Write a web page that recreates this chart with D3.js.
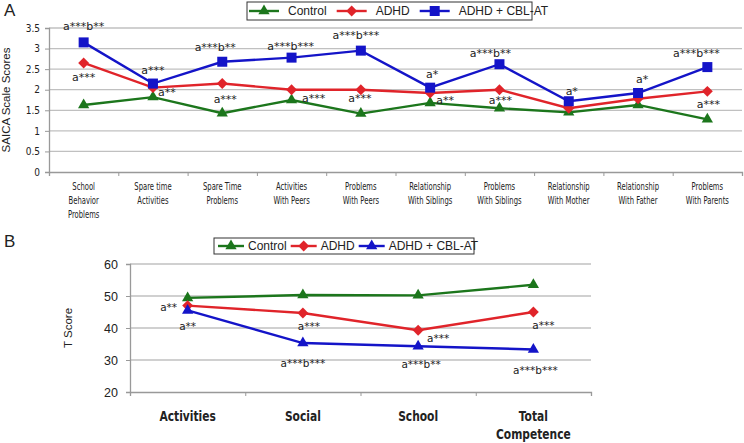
<!DOCTYPE html>
<html><head><meta charset="utf-8">
<script src="https://cdn.jsdelivr.net/npm/d3@7"></script>
<style>
body{margin:0;background:#fff;}
svg{display:block;font-family:"Liberation Sans",Arial,sans-serif;}
</style></head><body>
<svg id="c" width="744" height="443"></svg>
<script>
// ---- Data: panel A ----
const catsA = [["School","Behavior","Problems"],["Spare time","Activities"],["Spare Time","Problems"],["Activities","With Peers"],["Problems","With Peers"],["Relationship","With Siblings"],["Problems","With Siblings"],["Relationship","With Mother"],["Relationship","With Father"],["Problems","With Parents"]];
const controlA = [1.63,1.82,1.43,1.75,1.42,1.68,1.55,1.45,1.63,1.28];
const adhdA    = [2.65,2.05,2.15,2.0,2.0,1.92,2.0,1.55,1.78,1.96];
const cblA     = [3.15,2.15,2.68,2.78,2.95,2.05,2.62,1.72,1.92,2.55];
const ticksA = [0,0.5,1,1.5,2,2.5,3,3.5];
// annotations: [category index, text, series, dx, dy]
const annA = [
 [0,"a***b**","cbl",0,-16],[0,"a***","adhd",0,14],
 [1,"a***","cbl",0,-13],[1,"a**","ctrl",14,-5],
 [2,"a***b**","cbl",-7,-15],[2,"a***","ctrl",3,-14],
 [3,"a***b***","cbl",-1,-11],[3,"a***","ctrl",22,-2],
 [4,"a***b***","cbl",-5,-15],[4,"a***","ctrl",-1,-15],
 [5,"a*","cbl",2,-14],[5,"a**","ctrl",15,-3],
 [6,"a***b**","cbl",-9,-11],[6,"a***","ctrl",1,-8],
 [7,"a*","cbl",3,-10],
 [8,"a*","cbl",4,-14],
 [9,"a***b***","cbl",-11,-14],[9,"a***","ctrl",1,-15]
];
// ---- Data: panel B ----
const catsB = [["Activities"],["Social"],["School"],["Total","Competence"]];
const controlB = [49.4,50.3,50.2,53.5];
const adhdB    = [47.0,44.7,39.3,45.0];
const cblB     = [45.5,35.3,34.3,33.3];
const ticksB = [20,30,40,50,60];
const annB = [
 [0,"a**","adhd",-19,2],[0,"a**","cbl",0,16],
 [1,"a***","adhd",6,13],[1,"a***b***","cbl",0,20],
 [2,"a***","adhd",20,8],[2,"a***b**","cbl",3,18],
 [3,"a***","adhd",10,13],[3,"a***b***","cbl",2,21]
];
const seriesNames = ["Control","ADHD","ADHD + CBL-AT"];

const GREEN="#1c761c", RED="#e0242a", BLUE="#1414c8", GRID="#c0c0c0";
const svg = d3.select("#c");

function marker(g, type, x, y, color, s){
  if(type==="tri"){
    g.append("path").attr("d",d3.symbol(d3.symbolTriangle, s*s*0.55)()).attr("transform",`translate(${x},${y})`).attr("fill",color);
  } else if(type==="dia"){
    g.append("rect").attr("x",-s/2.6).attr("y",-s/2.6).attr("width",s/1.3).attr("height",s/1.3).attr("transform",`translate(${x},${y}) rotate(45)`).attr("fill",color);
  } else {
    g.append("rect").attr("x",x-s/2).attr("y",y-s/2).attr("width",s).attr("height",s).attr("fill",color);
  }
}

function panel(o){
  const g = svg.append("g");
  const x = d3.scaleBand().domain(d3.range(o.cats.length)).range([o.x0,o.x1]);
  const y = d3.scaleLinear().domain(o.dom).range([o.y0,o.y1]);
  g.selectAll(".gl").data(o.ticks.slice(1)).join("line")
    .attr("x1",o.x0).attr("x2",o.x1).attr("y1",d=>y(d)).attr("y2",d=>y(d))
    .attr("stroke",GRID).attr("stroke-width",1.3);
  const ya = g.append("g").attr("transform",`translate(${o.x0},0)`)
    .call(d3.axisLeft(y).tickValues(o.ticks).tickSize(4).tickPadding(o.tpad).tickFormat(d3.format("")));
  ya.select(".domain").attr("stroke","#999").attr("stroke-width",1.3);
  ya.selectAll(".tick line").attr("stroke","#999");
  ya.selectAll("text").attr("font-size",o.yfs).attr("fill","#222").attr("font-family",o.yfont);
  const xa = g.append("g").attr("transform",`translate(0,${o.y0})`)
    .call(d3.axisBottom(d3.scaleLinear().domain([0,o.cats.length]).range([o.x0,o.x1])).tickValues(d3.range(o.cats.length+1)).tickSize(4).tickFormat(""));
  xa.select(".domain").attr("stroke","#999").attr("stroke-width",1.3);
  xa.selectAll(".tick line").attr("stroke","#999");
  const cx = i=>x(i)+x.bandwidth()/2;
  o.cats.forEach((c,i)=>{
    const t = g.append("text").attr("transform",`translate(${cx(i)},${o.y0+o.lab0}) scale(${o.xsx},1)`)
      .attr("text-anchor","middle").attr("font-size",o.xfs).attr("font-weight",o.xfw).attr("font-family",o.xfont).attr("fill","#222");
    c.forEach((l,j)=>t.append("tspan").attr("x",0).attr("y",j*o.lh).text(l));
  });
  const ser = {ctrl:o.ctrl, adhd:o.adhd, cbl:o.cbl};
  const specs = [["ctrl",GREEN,"tri"],["adhd",RED,"dia"],["cbl",BLUE,o.cblMark]];
  specs.forEach(([k,col,m])=>{
    g.append("path").datum(ser[k]).attr("fill","none").attr("stroke",col).attr("stroke-width",2.4)
      .attr("d",d3.line().x((d,i)=>cx(i)).y(d=>y(d)));
  });
  specs.forEach(([k,col,m])=>{
    ser[k].forEach((v,i)=>marker(g,m,cx(i),y(v),col,o.ms));
  });
  o.ann.forEach(([i,txt,k,dx,dy])=>{
    g.append("text").attr("x",cx(i)+dx).attr("y",y(ser[k][i])+dy).attr("dy","0.35em")
      .attr("text-anchor","middle").attr("font-size",o.afs).attr("font-family","DejaVu Sans").attr("fill","#222").text(txt);
  });
  g.append("text").attr("transform",`translate(${o.ylx},${(o.y0+o.y1)/2}) rotate(-90)`)
    .attr("text-anchor","middle").attr("font-size",o.ylfs).attr("fill","#222").text(o.ylabel);
  const L = o.leg;
  g.append("rect").attr("x",L.x).attr("y",L.y).attr("width",L.w).attr("height",L.h).attr("fill","#fff").attr("stroke","#333").attr("stroke-width",1);
  let lx = L.x+L.pad;
  specs.forEach(([k,col,m],i)=>{
    const ly = L.y+L.h/2;
    g.append("line").attr("x1",lx).attr("x2",lx+L.sw).attr("y1",ly).attr("y2",ly).attr("stroke",col).attr("stroke-width",2.4);
    marker(g,m,lx+L.sw/2,ly,col,o.ms);
    const t = g.append("text").attr("x",lx+L.sw+L.gap).attr("y",ly).attr("dy","0.35em").attr("font-size",L.fs).attr("fill","#222").text(seriesNames[i]);
    lx += L.sw+L.gap+t.node().getComputedTextLength()+L.sp;
  });
  g.append("text").attr("x",o.letter[1]).attr("y",o.letter[2]).attr("font-size",17).attr("fill","#222").text(o.letter[0]);
}

panel({cats:catsA, ctrl:controlA, adhd:adhdA, cbl:cblA, ticks:ticksA, dom:[0,3.5],
  x0:49, x1:742, y0:172, y1:28, tpad:5, yfs:10, yfont:"DejaVu Sans Condensed, DejaVu Sans",
  xfs:10, xfw:"normal", xfont:"DejaVu Sans Condensed, DejaVu Sans", xsx:0.76, lab0:18, lh:14,
  cblMark:"sq", ms:10, ann:annA, afs:11, ylx:10, ylfs:11.5, ylabel:"SAICA Scale Scores",
  leg:{x:247,y:2,w:285,h:18,pad:2,sw:30,gap:9,sp:10,fs:12}, letter:["A",4,16]});

panel({cats:catsB, ctrl:controlB, adhd:adhdB, cbl:cblB, ticks:ticksB, dom:[20,60],
  x0:130, x1:591, y0:392, y1:264, tpad:8, yfs:12.5, yfont:"Liberation Sans",
  xfs:14.5, xfw:"bold", xfont:"DejaVu Sans Condensed, DejaVu Sans", xsx:0.82, lab0:29, lh:18,
  cblMark:"tri", ms:10, ann:annB, afs:10.5, ylx:72, ylfs:11.5, ylabel:"T Score",
  leg:{x:214,y:238,w:260,h:16,pad:4,sw:26,gap:4,sp:4,fs:12}, letter:["B",4,247]});
</script>
</body></html>
